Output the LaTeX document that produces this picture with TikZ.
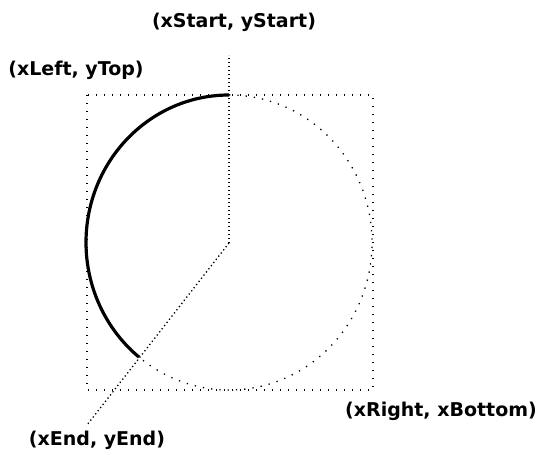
\documentclass[tikz,border=0pt]{standalone}
\usepackage{fontspec}
\setsansfont{DejaVu Sans}
\usepackage{tikz}
\usetikzlibrary{positioning, calc}

\begin{document}
\begin{tikzpicture}[x=1pt, y=-1pt,
  font=\fontsize{19}{22}\selectfont\bfseries\sffamily,
  frame/.style={line width=1.3pt, dash pattern=on 1.3pt off 6.7pt},
  ray/.style={line width=1.3pt, dash pattern=on 1.3pt off 2.7pt},
  rest/.style={line width=1.3pt, dash pattern=on 1.3pt off 7pt},
  drawn/.style={line width=3.2pt}]
\useasboundingbox (0,0) rectangle (542,455);

\coordinate (c) at (229,243);
\coordinate (s) at (229,95);
\coordinate (sfar) at (229,55);
\coordinate (efar) at (87,425);
\coordinate (tl) at (87,95);
\coordinate (br) at (373,390);

\draw[frame] (tl) rectangle (br);

\draw[ray] (c)--(sfar);
\draw[ray] (c)--(efar);

\draw[rest] (s) arc[start angle=-90, end angle=129, x radius=143, y radius=147.5];
\draw[drawn] (s) arc[start angle=-90, end angle=-231, x radius=143, y radius=147.5];

\node (lstart) at (234,22) {(xStart, yStart)};
\node (ltl) at (76,70) {(xLeft, yTop)};
\node (lbr) at (441,411) {(xRight, xBottom)};
\node (lend) at (97,440) {(xEnd, yEnd)};
\end{tikzpicture}
\end{document}
